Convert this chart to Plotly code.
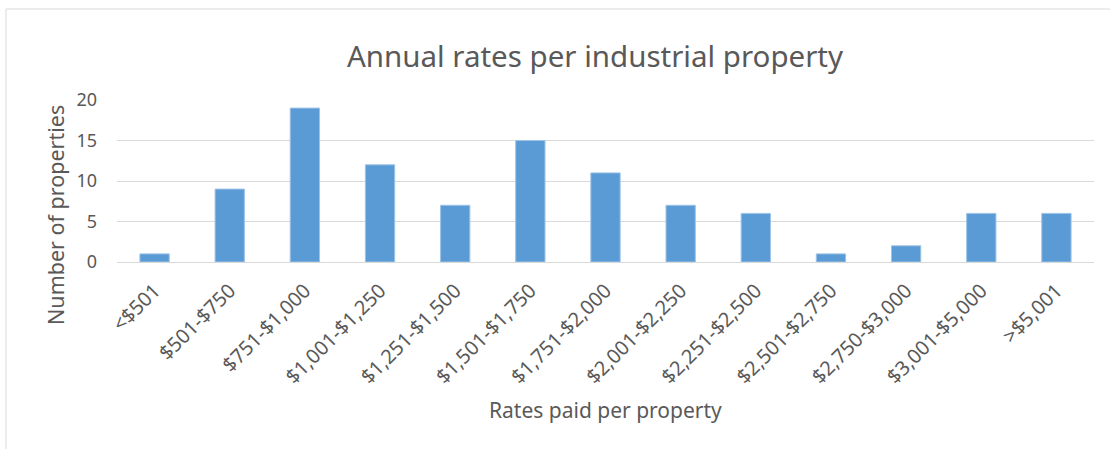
import plotly.graph_objects as go

categories = ["<$501", "$501-$750", "$751-$1,000", "$1,001-$1,250", "$1,251-$1,500",
              "$1,501-$1,750", "$1,751-$2,000", "$2,001-$2,250", "$2,251-$2,500",
              "$2,501-$2,750", "$2,750-$3,000", "$3,001-$5,000", ">$5,001"]
counts = [1, 9, 19, 12, 7, 15, 11, 7, 6, 1, 2, 6, 6]
y_ticks = [0, 5, 10, 15, 20]

W, H = 1110, 449
L, R, T, B = 117, 16, 100, 187
pw, ph = W - L - R, H - T - B

fig = go.Figure(go.Bar(
    x=categories, y=counts,
    marker=dict(color="#5B9BD5", line=dict(color="#9DC3E6", width=1)),
))

grey = "#595959"
fig.update_layout(
    width=W, height=H,
    margin=dict(l=L, r=R, t=T, b=B, autoexpand=False),
    paper_bgcolor="white", plot_bgcolor="white",
    bargap=0.61,
    showlegend=False,
    font=dict(family="Noto Sans", color=grey),
    title=dict(text="Annual rates per industrial property", x=595 / W, xanchor="center",
               y=1 - 57 / H, yanchor="middle", font=dict(size=29.5, color=grey)),
    xaxis=dict(tickangle=-45, tickfont=dict(size=20, color=grey), showgrid=False,
               showline=True, linecolor="#D9D9D9", linewidth=1, ticks="",
               ticklabelstandoff=8),
    yaxis=dict(range=[0, 20], tickvals=y_ticks, tickfont=dict(size=18, color=grey),
               showgrid=True, gridcolor="#D9D9D9", gridwidth=1, zeroline=False,
               showline=False, ticks="", ticklabelstandoff=19),
)

# axis titles placed like the Excel chart
fig.add_annotation(text="Rates paid per property", xref="paper", yref="paper",
                   x=(605 - L) / pw, y=(H - B - 410) / ph, xanchor="center", yanchor="middle",
                   showarrow=False, font=dict(size=21, color=grey))
fig.add_annotation(text="Number of properties", xref="paper", yref="paper",
                   x=(55 - L) / pw, y=(H - B - 215) / ph, xanchor="center", yanchor="middle",
                   textangle=-90, showarrow=False, font=dict(size=21.5, color=grey))

# chart area border (Excel chart frame)
x0 = (6 - L) / pw
x1 = (W + 5 - L) / pw
ytop = (H - B - 9) / ph
ybot = (H - B - (H + 5)) / ph
fig.add_shape(type="rect", xref="paper", yref="paper", x0=x0, x1=x1, y0=ybot, y1=ytop,
              line=dict(color="#D9D9D9", width=1), fillcolor="rgba(0,0,0,0)", layer="below")

fig.write_html("out.html", config={"displayModeBar": False},
               post_script="document.body.style.margin='0';document.body.style.overflow='hidden';")
